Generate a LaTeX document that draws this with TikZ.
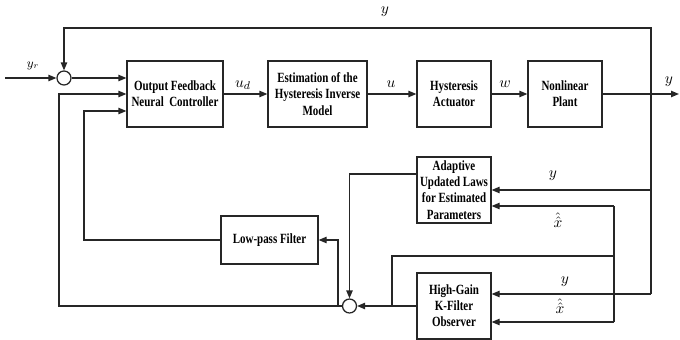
\documentclass[tikz,border=0pt]{standalone}
\usepackage{fontspec}
\setmainfont{Liberation Serif}
\newfontfamily\blkfont{Liberation Serif}[FakeStretch=0.78]
\usetikzlibrary{arrows.meta,positioning,calc}
\definecolor{linec}{HTML}{262626}

\begin{document}
\begin{tikzpicture}[x=0.25mm,y=-0.25mm,line width=0.9pt,
    blk/.style={draw=linec,align=center,inner sep=1pt,minimum height=16.5mm,
      font=\blkfont\bfseries\fontsize{10}{11.5}\selectfont},
    sumc/.style={draw=linec,circle,minimum size=3.5mm,inner sep=0pt},
    arr/.style={draw=linec,-{Triangle[length=2mm,width=1.6mm]}},
    lab/.style={font=\fontsize{11}{13}\selectfont,inner sep=1pt}]
  \useasboundingbox (0,0) rectangle (680,340);
  % forward path
  \node[sumc] (c1) at (64,78) {};
  \node[blk,minimum width=24mm] (ctrl) at (175,94) {Output Feedback\\Neural\ \ Controller};
  \node[blk,minimum width=24.75mm] (est) at (317.5,94) {Estimation of the\\Hysteresis Inverse\\Model};
  \node[blk,minimum width=18.5mm] (act) at (454,94) {Hysteresis\\Actuator};
  \node[blk,minimum width=18.5mm] (plant) at (565,94) {Nonlinear\\Plant};
  % lower part
  \node[blk,minimum width=18.5mm] (adapt) at (454,190) {Adaptive\\Updated Laws\\for Estimated\\Parameters};
  \node[blk,minimum width=18.5mm] (obs) at (454,306) {High-Gain\\K-Filter\\Observer};
  \node[blk,minimum width=24.25mm,minimum height=12mm] (lpf) at (269.5,240) {Low-pass Filter};
  \node[sumc] (c2) at (349.5,306) {};

  \coordinate (yin) at (5,78);
  \coordinate (yout) at (679,94);
  \coordinate (ytap) at (651,94);
  \coordinate (ytop) at (651,28);
  \coordinate (ymid) at (651,190);
  \coordinate (ybot) at (651,294);
  \coordinate (xtop) at (614,206);
  \coordinate (xmid) at (614,256);
  \coordinate (xbot) at (614,322);
  \coordinate (jobs) at (392,306);
  \coordinate (jlpf) at (338,306);
  \coordinate (fb1) at (59,306);
  \coordinate (fb2) at (84,240);

  \draw[arr] (yin) -- (c1.west);
  \draw[arr] (c1.east) -- (c1.east -| ctrl.west);
  \draw[arr] (ctrl) -- (est);
  \draw[arr] (est) -- (act);
  \draw[arr] (act) -- (plant);
  \draw[arr] (plant) -- (yout);
  \draw[arr] (ytap) -- (ytop) -| (c1.north);
  \draw[linec] (ytap) -- (ybot);
  \draw[arr] (ymid) -- (adapt.east |- ymid);
  \draw[arr] (ybot) -- (obs.east |- ybot);
  \draw[arr] (xtop) -- (adapt.east |- xtop);
  \draw[linec] (xtop) -- (xbot);
  \draw[arr] (xbot) -- (obs.east |- xbot);
  \draw[linec] (xmid) -| (jobs);
  \draw[arr] (obs) -- (c2);
  \draw[arr] ($(adapt.west)+(0,-16)$) -| (c2.north);
  \draw[arr] (c2.west) -- (fb1) |- (ctrl.west);
  \draw[arr] (jlpf) |- (lpf.east);
  \draw[arr] (lpf.west) -- (fb2) |- ($(ctrl.west)+(0,17)$);

  % signal labels
  \node[lab] (lyt) at (385,12) {$y$};
  \node[lab,font=\fontsize{9}{11}\selectfont] (lyr) at (33,66) {$y_r$};
  \node[lab] (lud) at (243,85) {$u_d$};
  \node[lab] (lu) at (391,84) {$u$};
  \node[lab] (lw) at (505,84) {$w$};
  \node[lab] (lyo) at (669,82) {$y$};
  \node[lab] (lya) at (553,176) {$y$};
  \node[lab] (lxa) at (558,220) {$\hat{\hat{x}}$};
  \node[lab] (lyo2) at (565,282) {$y$};
  \node[lab] (lxo) at (560,306) {$\hat{\hat{x}}$};
\end{tikzpicture}
\end{document}
